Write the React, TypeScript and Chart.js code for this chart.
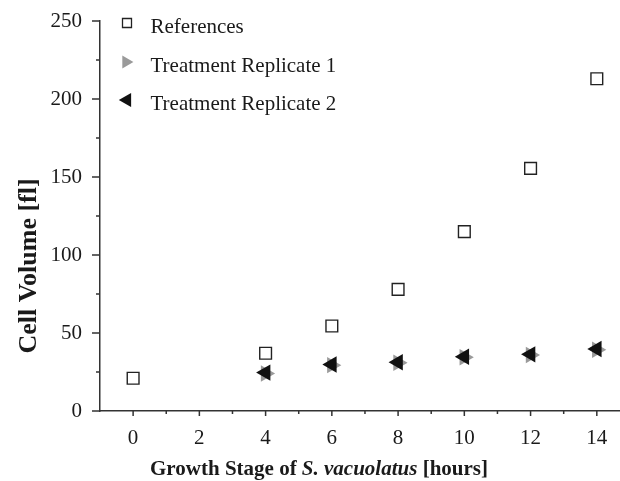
import React, { useEffect, useRef } from "react";
import { Chart, registerables } from "chart.js";

Chart.register(...registerables);

const refHours = [0, 4, 6, 8, 10, 12, 14];
const refVolumes = [21, 37, 54.5, 78, 115, 155.5, 213];
const treatHours = [4, 6, 8, 10, 12, 14];
const rep1Volumes = [24.0, 29.4, 30.9, 34.4, 35.9, 39.2];
const rep2Volumes = [24.6, 29.8, 31.2, 34.8, 36.3, 39.7];

const xTickValues = [0, 1, 2, 3, 4, 5, 6, 7, 8, 9, 10, 11, 12, 13, 14];
const xLabelValues = [0, 2, 4, 6, 8, 10, 12, 14];
const yTickValues = [0, 25, 50, 75, 100, 125, 150, 175, 200, 225, 250];
const yLabelValues = [0, 50, 100, 150, 200, 250];

const legendLabels = ["References", "Treatment Replicate 1", "Treatment Replicate 2"];
const xTitleParts = ["Growth Stage of ", "S. vacuolatus", " [hours]"];
const yTitle = "Cell Volume [fl]";

const SERIF = '"Liberation Serif", "Times New Roman", serif';
const AXIS_COLOR = "#333";
const GRAY = "#9a9a9a";
const BLACK = "#111";

const decorPlugin = {
  id: "decor",
  afterDraw(chart: any) {
    const ctx = chart.ctx;
    const xs = chart.scales.x;
    const ys = chart.scales.y;
    const area = chart.chartArea;
    ctx.save();
    // ticks
    ctx.strokeStyle = AXIS_COLOR;
    ctx.lineWidth = 1.5;
    ctx.beginPath();
    xTickValues.forEach((v) => {
      const px = xs.getPixelForValue(v);
      const len = xLabelValues.includes(v) ? 5 : 3;
      ctx.moveTo(px, area.bottom);
      ctx.lineTo(px, area.bottom + len);
    });
    yTickValues.forEach((v) => {
      const py = ys.getPixelForValue(v);
      const len = yLabelValues.includes(v) ? 8 : 4;
      ctx.moveTo(area.left, py);
      ctx.lineTo(area.left - len, py);
    });
    ctx.stroke();

    // legend
    const mx = 127;
    const rows = [23, 62, 100];
    ctx.lineWidth = 1.3;
    ctx.strokeStyle = "#222";
    ctx.fillStyle = "#fff";
    ctx.beginPath();
    ctx.rect(mx - 4.5, rows[0] - 4.5, 9, 9);
    ctx.fill();
    ctx.stroke();
    let r = 7.4;
    ctx.fillStyle = GRAY;
    ctx.beginPath();
    ctx.moveTo(mx - 1 + r, rows[1]);
    ctx.lineTo(mx - 1 - 0.5 * r, rows[1] - 0.866 * r);
    ctx.lineTo(mx - 1 - 0.5 * r, rows[1] + 0.866 * r);
    ctx.closePath();
    ctx.fill();
    r = 8.2;
    ctx.fillStyle = BLACK;
    ctx.beginPath();
    ctx.moveTo(mx - r, rows[2]);
    ctx.lineTo(mx + 0.5 * r, rows[2] - 0.866 * r);
    ctx.lineTo(mx + 0.5 * r, rows[2] + 0.866 * r);
    ctx.closePath();
    ctx.fill();

    ctx.fillStyle = "#1a1a1a";
    ctx.font = `21px ${SERIF}`;
    ctx.textAlign = "left";
    ctx.textBaseline = "alphabetic";
    const baselines = [33, 72, 110];
    legendLabels.forEach((t, i) => ctx.fillText(t, 150.5, baselines[i]));

    // x title with italic part
    const fonts = [
      `bold 21px ${SERIF}`,
      `italic bold 21px ${SERIF}`,
      `bold 21px ${SERIF}`,
    ];
    let total = 0;
    const widths = xTitleParts.map((p, i) => {
      ctx.font = fonts[i];
      const w = ctx.measureText(p).width;
      total += w;
      return w;
    });
    let x = 319 - total / 2;
    xTitleParts.forEach((p, i) => {
      ctx.font = fonts[i];
      ctx.fillText(p, x, 475);
      x += widths[i];
    });

    // y title
    ctx.translate(36, 266);
    ctx.rotate(-Math.PI / 2);
    ctx.textAlign = "center";
    ctx.font = `bold 26px ${SERIF}`;
    ctx.fillText(yTitle, 0, 0);
    ctx.restore();
  },
};

export default function App() {
  const canvasRef = useRef<HTMLCanvasElement | null>(null);

  useEffect(() => {
    if (!canvasRef.current) return;
    const chart = new Chart(canvasRef.current, {
      type: "scatter",
      data: {
        datasets: [
          {
            label: legendLabels[0],
            data: refHours.map((h, i) => ({ x: h, y: refVolumes[i] })),
            pointStyle: "rect",
            pointRadius: 8.3,
            pointHoverRadius: 8.3,
            pointBackgroundColor: "#fff",
            pointBorderColor: "#222",
            pointBorderWidth: 1.4,
            order: 0,
          },
          {
            label: legendLabels[1],
            data: treatHours.map((h, i) => ({ x: h, y: rep1Volumes[i] })),
            pointStyle: "triangle",
            pointRotation: 90,
            pointRadius: 9.5,
            pointHoverRadius: 9.5,
            pointBackgroundColor: GRAY,
            pointBorderColor: GRAY,
            pointBorderWidth: 0,
            order: 2,
          },
          {
            label: legendLabels[2],
            data: treatHours.map((h, i) => ({ x: h, y: rep2Volumes[i] })),
            pointStyle: "triangle",
            pointRotation: -90,
            pointRadius: 9.5,
            pointHoverRadius: 9.5,
            pointBackgroundColor: BLACK,
            pointBorderColor: BLACK,
            pointBorderWidth: 0,
            order: 1,
          },
        ],
      },
      options: {
        responsive: false,
        animation: false,
        layout: { autoPadding: false, padding: { top: 21, right: 0, left: 0, bottom: 0 } },
        plugins: {
          legend: { display: false },
          tooltip: { enabled: false },
        },
        scales: {
          x: {
            type: "linear",
            min: -1,
            max: 14.7,
            afterBuildTicks: (s: any) => {
              s.ticks = xTickValues.map((v) => ({ value: v }));
            },
            afterFit: (s: any) => {
              s.height = 70;
              s.paddingRight = 0;
              s.paddingLeft = 0;
            },
            ticks: {
              autoSkip: false,
              maxRotation: 0,
              padding: 10,
              color: "#1a1a1a",
              font: { family: SERIF, size: 21 },
              callback: (v: any) => (xLabelValues.includes(Number(v)) ? String(v) : ""),
            },
            grid: {
              display: true,
              drawOnChartArea: false,
              drawTicks: true,
              tickLength: 5,
              color: "rgba(0,0,0,0)",
              tickColor: "rgba(0,0,0,0)",
            },
            border: { display: true, color: AXIS_COLOR, width: 1.5 },
          },
          y: {
            type: "linear",
            min: 0,
            max: 250,
            afterBuildTicks: (s: any) => {
              s.ticks = yTickValues.map((v) => ({ value: v }));
            },
            afterFit: (s: any) => {
              s.width = 100;
              s.paddingTop = 0;
              s.paddingBottom = 0;
            },
            ticks: {
              autoSkip: false,
              padding: 10,
              color: "#1a1a1a",
              font: { family: SERIF, size: 21 },
              callback: (v: any) => (yLabelValues.includes(Number(v)) ? String(v) : ""),
            },
            grid: {
              display: true,
              drawOnChartArea: false,
              drawTicks: true,
              tickLength: 8,
              color: "rgba(0,0,0,0)",
              tickColor: "rgba(0,0,0,0)",
            },
            border: { display: true, color: AXIS_COLOR, width: 1.5 },
          },
        },
      },
      plugins: [decorPlugin],
    });
    return () => chart.destroy();
  }, []);

  return (
    <div style={{ position: "absolute", left: 0, top: 0, width: 620, height: 481, background: "#fff" }}>
      <canvas ref={canvasRef} width={620} height={481} style={{ display: "block" }} />
    </div>
  );
}
